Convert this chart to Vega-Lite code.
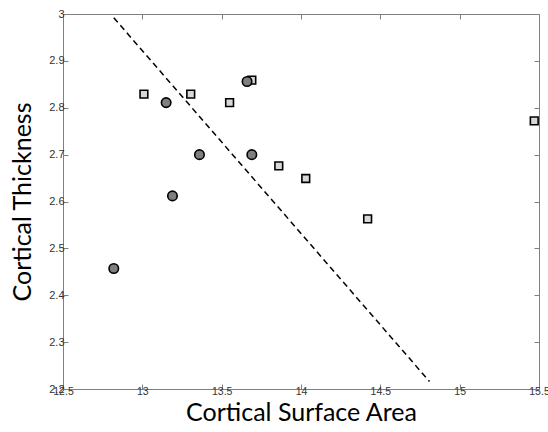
{
  "$schema": "https://vega.github.io/schema/vega-lite/v6.json",
  "width": 476,
  "height": 375,
  "autosize": "none",
  "padding": {"left": 63, "top": 14, "right": 9, "bottom": 43},
  "config": {
    "view": {"stroke": "#808080", "strokeWidth": 1},
    "axis": {
      "grid": false,
      "domain": false,
      "tickColor": "#808080",
      "tickSize": -5,
      "tickWidth": 1,
      "labelFont": "Liberation Sans",
      "labelFontSize": 11,
      "labelColor": "#333333",
      "titleFont": "Lato",
      "titleFontSize": 25,
      "titleFontWeight": "normal",
      "titleColor": "#000000"
    }
  },
  "datasets": {
    "points": [
      {"area": 13.01, "thickness": 2.829, "group": "B"},
      {"area": 13.305, "thickness": 2.829, "group": "B"},
      {"area": 13.55, "thickness": 2.811, "group": "B"},
      {"area": 13.69, "thickness": 2.859, "group": "B"},
      {"area": 13.86, "thickness": 2.676, "group": "B"},
      {"area": 14.03, "thickness": 2.649, "group": "B"},
      {"area": 14.42, "thickness": 2.563, "group": "B"},
      {"area": 15.47, "thickness": 2.772, "group": "B"},
      {"area": 12.82, "thickness": 2.457, "group": "A"},
      {"area": 13.15, "thickness": 2.811, "group": "A"},
      {"area": 13.19, "thickness": 2.612, "group": "A"},
      {"area": 13.36, "thickness": 2.7, "group": "A"},
      {"area": 13.66, "thickness": 2.856, "group": "A"},
      {"area": 13.69, "thickness": 2.7, "group": "A"}
    ],
    "fit": [
      {"area": 12.82, "thickness": 2.992},
      {"area": 14.81, "thickness": 2.216}
    ]
  },
  "resolve": {"axis": {"x": "independent", "y": "independent"}},
  "layer": [
    {
      "data": {"name": "fit"},
      "mark": {"type": "line", "color": "#000000", "strokeWidth": 1.5, "strokeDash": [6, 4]},
      "encoding": {
        "x": {
          "field": "area", "type": "quantitative",
          "scale": {"domain": [12.5, 15.5], "nice": false, "zero": false},
          "axis": {"orient": "bottom", "title": "Cortical Surface Area", "values": [12.5, 13, 13.5, 14, 14.5, 15, 15.5], "format": "~g", "labelFontSize": 10.5, "labelPadding": 2, "titlePadding": 4, "labelFlush": false, "labelOverlap": false}
        },
        "y": {
          "field": "thickness", "type": "quantitative",
          "scale": {"domain": [2.2, 3], "nice": false, "zero": false},
          "axis": {"orient": "left", "title": "Cortical Thickness", "values": [2.2, 2.3, 2.4, 2.5, 2.6, 2.7, 2.8, 2.9, 3], "format": "~g", "labelPadding": 4, "titlePadding": 13, "labelFlush": false, "labelOverlap": false}
        }
      }
    },
    {
      "data": {"name": "points"},
      "mark": {"type": "point", "filled": true, "stroke": "#000000", "strokeWidth": 1.6, "opacity": 1},
      "encoding": {
        "x": {
          "field": "area", "type": "quantitative",
          "scale": {"domain": [12.5, 15.5], "nice": false, "zero": false},
          "axis": {"orient": "top", "title": null, "labels": false, "values": [12.5, 13, 13.5, 14, 14.5, 15, 15.5]}
        },
        "y": {
          "field": "thickness", "type": "quantitative",
          "scale": {"domain": [2.2, 3], "nice": false, "zero": false},
          "axis": {"orient": "right", "title": null, "labels": false, "values": [2.2, 2.3, 2.4, 2.5, 2.6, 2.7, 2.8, 2.9, 3]}
        },
        "shape": {"field": "group", "type": "nominal", "scale": {"domain": ["A", "B"], "range": ["circle", "square"]}, "legend": null},
        "fill": {"field": "group", "type": "nominal", "scale": {"domain": ["A", "B"], "range": ["#7f7f7f", "#d8d8d8"]}, "legend": null},
        "size": {"field": "group", "type": "nominal", "scale": {"domain": ["A", "B"], "range": [90, 60]}, "legend": null}
      }
    }
  ]
}
